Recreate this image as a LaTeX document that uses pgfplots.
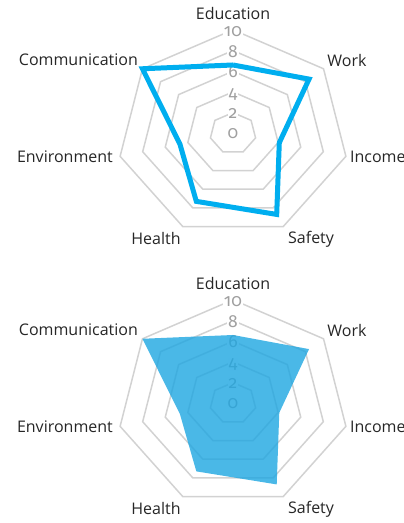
\documentclass[border=0pt]{standalone}
\usepackage{fontspec}
\setmainfont{Open Sans}
\newfontfamily\tickfont[Numbers=OldStyle]{Fira Sans}
\usepackage{pgfplots}
\pgfplotsset{compat=1.18}
\usepackage{pgfplotstable}
\usepackage{xcolor}

\definecolor{ringgray}{HTML}{D2D2D2}
\definecolor{tickgray}{HTML}{A0A0A0}
\definecolor{lineblue}{HTML}{00AEEF}
\definecolor{fillblue}{HTML}{1DA6E1}

% angle (deg, polar) and score for each dimension, Education repeated to close
\pgfplotstableread{
angle    score
90       6.6
38.571   8.4
-12.857  4.1
-64.286  8.7
-115.714 7.3
-167.143 4.7
-218.571 10
-270     6.6
}\scores

\pgfplotsset{
  radar/.style={
    x=11.58pt, y=10.35pt,
    xmin=-12, xmax=12, ymin=-12, ymax=12,
    hide axis, clip=false, anchor=origin,
  },
}

\newcommand{\tk}{\tickfont\fontsize{17.5}{18}\selectfont}
\newcommand{\lb}{\fontsize{16}{18}\selectfont}

% rings, tick labels and category names shared by both charts
\newcommand{\radargrid}{%
  \foreach \r in {2,4,6,8,10}{%
    \edef\tmp{\noexpand\addplot[data cs=polar, ringgray, line width=1.5pt, no markers]
      coordinates {(90,\r) (38.571,\r) (-12.857,\r) (-64.286,\r) (-115.714,\r) (-167.143,\r) (-218.571,\r) (-270,\r)};}%
    \tmp
  }
  \node[fill=white, inner sep=1pt, text=tickgray, font=\tk] at (axis cs:0,9.85) {10};
  \node[fill=white, inner sep=1pt, text=tickgray, font=\tk] at (axis cs:0,7.9) {8};
  \node[fill=white, inner sep=1pt, text=tickgray, font=\tk] at (axis cs:0,5.95) {6};
  \node[fill=white, inner sep=1pt, text=tickgray, font=\tk] at (axis cs:0,3.75) {4};
  \node[fill=white, inner sep=1pt, text=tickgray, font=\tk] at (axis cs:0,1.95) {2};
  \node[inner sep=1pt, text=tickgray, font=\tk] at (axis cs:0,0) {0};
  \node[font=\lb, text=black!85] at (axis cs:0,11.6) {Education};
  \node[font=\lb, text=black!85] at (axis cs:9.84,7.08) {Work};
  \node[font=\lb, text=black!85, anchor=west, inner sep=0pt] at (axis cs:10.1,-2.29) {Income};
  \node[font=\lb, text=black!85] at (axis cs:6.74,-10.21) {Safety};
  \node[font=\lb, text=black!85] at (axis cs:-6.65,-10.21) {Health};
  \node[font=\lb, text=black!85, anchor=east, inner sep=0pt] at (axis cs:-10.36,-2.29) {Environment};
  \node[font=\lb, text=black!85, anchor=east, inner sep=0pt] at (axis cs:-8.2,7.08) {Communication};
}

\begin{document}
\begin{tikzpicture}
\begin{axis}[radar, at={(233pt,389.7pt)}]
  \radargrid
  \addplot[data cs=polar, lineblue, line width=5pt, no markers, line join=miter]
    table[x=angle, y=score] {\scores};
\end{axis}

\begin{axis}[radar, at={(233pt,119.7pt)}]
  \radargrid
  \addplot[data cs=polar, draw=none, fill=fillblue, fill opacity=0.8, no markers]
    table[x=angle, y=score] {\scores};
\end{axis}

\pgfresetboundingbox
\path[use as bounding box] (0,0) rectangle (404pt,523pt);
\end{tikzpicture}
\end{document}
